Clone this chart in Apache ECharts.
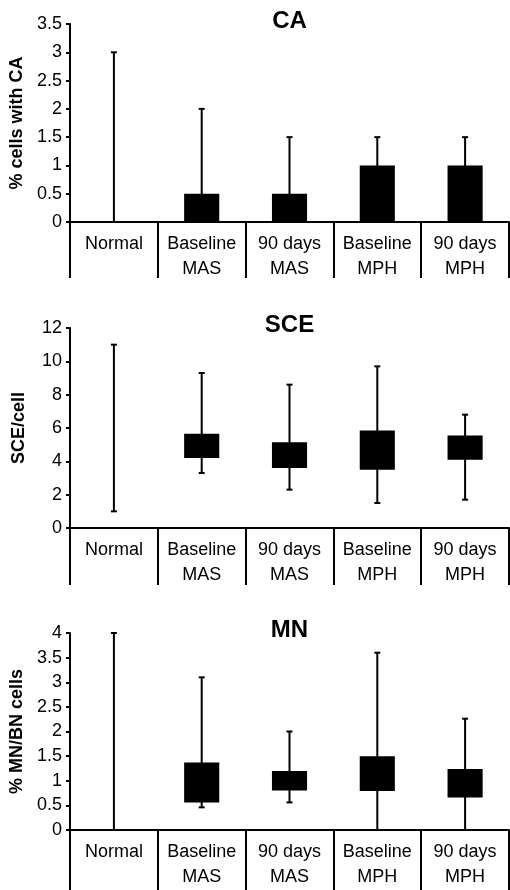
<!DOCTYPE html>
<html>
<head>
<meta charset="utf-8">
<script src="https://cdn.jsdelivr.net/npm/echarts@6/dist/echarts.min.js"></script>
<style>
  html, body { margin: 0; padding: 0; background: #fff; }
  #chart { width: 510px; height: 890px; }
</style>
</head>
<body>
<div id="chart"></div>
<script>
const categories = ['Normal', 'Baseline\nMAS', '90 days\nMAS', 'Baseline\nMPH', '90 days\nMPH'];

// whisker low / box low / box high / whisker high
const caMin = [0, 0, 0, 0, 0];
const caQ1 = [0, 0, 0, 0, 0];
const caQ3 = [0, 0.5, 0.5, 1, 1];
const caMax = [3, 2, 1.5, 1.5, 1.5];

const sceMin = [1, 3.3, 2.3, 1.5, 1.7];
const sceQ1 = [null, 4.2, 3.6, 3.5, 4.1];
const sceQ3 = [null, 5.65, 5.15, 5.85, 5.55];
const sceMax = [11, 9.3, 8.6, 9.7, 6.8];

const mnMin = [0, 0.46, 0.56, 0, 0];
const mnQ1 = [null, 0.56, 0.8, 0.79, 0.66];
const mnQ3 = [null, 1.37, 1.2, 1.5, 1.24];
const mnMax = [4, 3.1, 2.0, 3.6, 2.26];

const FONT = 'Liberation Sans, Arial, sans-serif';

const panels = [
  { title: 'CA', name: '% cells with CA', top: 24, height: 198, max: 3.5, interval: 0.5, tick: 56,
    min: caMin, q1: caQ1, q3: caQ3, hi: caMax },
  { title: 'SCE', name: 'SCE/cell', top: 328, height: 200, max: 12, interval: 2, tick: 57,
    min: sceMin, q1: sceQ1, q3: sceQ3, hi: sceMax },
  { title: 'MN', name: '% MN/BN cells', top: 633, height: 201, max: 4, interval: 0.5, tick: 62,
    min: mnMin, q1: mnQ1, q3: mnQ3, hi: mnMax }
];

function renderRange(params, api) {
  const i = api.value(0);
  const lo = api.coord([i, api.value(1)]);
  const hi = api.coord([i, api.value(4)]);
  const bw = api.size([1, 0])[0] * 0.4;
  const cap = 3;
  const line = { stroke: '#000', lineWidth: 2 };
  const children = [
    { type: 'line', shape: { x1: lo[0], y1: lo[1], x2: hi[0], y2: hi[1] }, style: line },
    { type: 'line', shape: { x1: hi[0] - cap, y1: hi[1], x2: hi[0] + cap, y2: hi[1] }, style: line },
    { type: 'line', shape: { x1: lo[0] - cap, y1: lo[1], x2: lo[0] + cap, y2: lo[1] }, style: line }
  ];
  const b1 = api.value(2), b2 = api.value(3);
  if (!isNaN(b1) && !isNaN(b2) && b2 > b1) {
    const p1 = api.coord([i, b1]);
    const p2 = api.coord([i, b2]);
    children.push({
      type: 'rect',
      shape: { x: p1[0] - bw / 2, y: p2[1], width: bw, height: p1[1] - p2[1] },
      style: { fill: '#000' }
    });
  }
  return { type: 'group', children };
}

const option = {
  animation: false,
  backgroundColor: '#fff',
  title: panels.map(p => ({
    text: p.title,
    left: 289.5,
    textAlign: 'center',
    top: p.top - 15,
    padding: 0,
    textStyle: { fontFamily: FONT, fontWeight: 'bold', fontSize: 24, color: '#000' }
  })),
  grid: panels.map(p => ({ left: 70, right: 1, top: p.top, height: p.height })),
  xAxis: panels.map((p, k) => ({
    type: 'category',
    gridIndex: k,
    data: categories,
    boundaryGap: true,
    axisLine: { lineStyle: { color: '#000', width: 2 } },
    axisTick: { show: true, length: p.tick, interval: 0, lineStyle: { color: '#000', width: 2 } },
    axisLabel: {
      interval: 0, margin: 10, color: '#000', fontFamily: FONT, fontSize: 18, lineHeight: 25,
      verticalAlign: 'top'
    },
    splitLine: { show: false }
  })),
  yAxis: panels.map((p, k) => ({
    type: 'value',
    gridIndex: k,
    min: 0,
    max: p.max,
    interval: p.interval,
    name: p.name,
    nameLocation: 'middle',
    nameGap: 42,
    nameTextStyle: { fontFamily: FONT, fontWeight: 'bold', fontSize: 18, color: '#000' },
    axisLine: { show: true, lineStyle: { color: '#000', width: 2 } },
    axisTick: { show: true, length: 4, lineStyle: { color: '#000', width: 2 } },
    axisLabel: { margin: 8, color: '#000', fontFamily: FONT, fontSize: 18 },
    splitLine: { show: false }
  })),
  series: panels.map((p, k) => ({
    type: 'custom',
    xAxisIndex: k,
    yAxisIndex: k,
    renderItem: renderRange,
    encode: { x: 0, y: [1, 2, 3, 4] },
    data: categories.map((c, i) => [i, p.min[i], p.q1[i], p.q3[i], p.hi[i]])
  }))
};

const chart = echarts.init(document.getElementById('chart'), null, { renderer: 'canvas' });
chart.setOption(option);
</script>
</body>
</html>
